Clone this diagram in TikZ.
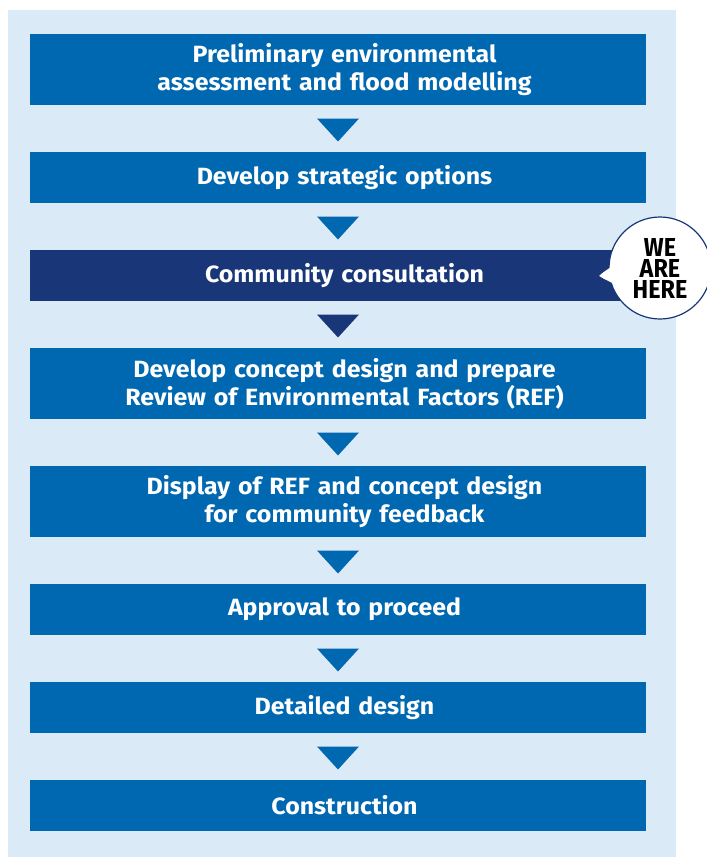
\documentclass[tikz,border=0pt]{standalone}
\usepackage{fontspec}
\setmainfont[FakeStretch=1.06]{Fira Sans}
\newfontfamily\herefont[FakeStretch=0.9]{Fira Sans}
\usetikzlibrary{positioning,calc}
\definecolor{floodBlue}{RGB}{0,103,177}
\definecolor{floodNavy}{RGB}{24,54,120}
\definecolor{floodPale}{RGB}{219,234,247}

\begin{document}
\begin{tikzpicture}[x=1pt,y=-1pt,
    node distance=46.6pt,
    stage/.style={fill=floodBlue,text=white,minimum width=616pt,text width=616pt,minimum height=51pt,inner sep=0pt,align=center,font=\fontsize{23.5}{28}\selectfont\bfseries,execute at begin node={\advance\leftskip by 13pt}},
    tallstage/.style={stage,minimum height=71pt},
    nowstage/.style={stage,fill=floodNavy},
    bubble/.style={circle,fill=white,draw=floodNavy,line width=1.2pt,minimum size=102pt,inner sep=0pt,align=center,font=\herefont\bfseries\fontsize{26}{21}\selectfont}
  ]
    \useasboundingbox (0,0) rectangle (707,857);
    \fill[floodPale] (8,10) rectangle (676,857);
    % the steps
    \node[tallstage] (prelim) at (338,69.5) {Preliminary environmental\\assessment and flood modelling};
    \node[stage,below=of prelim] (options) {Develop strategic options};
    \node[nowstage,below=of options] (consult) {Community consultation};
    \node[tallstage,below=of consult] (concept) {Develop concept design and prepare\\Review of Environmental Factors (REF)};
    \node[tallstage,below=of concept] (display) {Display of REF and concept design\\for community feedback};
    \node[stage,below=of display] (approval) {Approval to proceed};
    \node[stage,below=of approval] (detail) {Detailed design};
    \node[stage,below=of detail] (build) {Construction};
    % triangles between steps
    \foreach \a/\b/\c in {prelim/options/floodBlue,options/consult/floodBlue,consult/concept/floodNavy,concept/display/floodBlue,display/approval/floodBlue,approval/detail/floodBlue,detail/build/floodBlue}
      \fill[\c] ($(\a.south)!0.5!(\b.north)$) ++(-21,-10) -- ++(42,0) -- ++(-21,23) -- cycle;
    % we are here
    \node[bubble] (here) at (660,268) {WE\\ARE\\HERE};
    \coordinate (herepoint) at (598,276);
    \fill[white] ([shift={(5,0)}]here.177) -- (herepoint) -- ([shift={(5,0)}]here.199) -- cycle;
    \draw[floodNavy,line width=1.2pt] (here.177) -- (herepoint) -- (here.199);
  \end{tikzpicture}
\end{document}
